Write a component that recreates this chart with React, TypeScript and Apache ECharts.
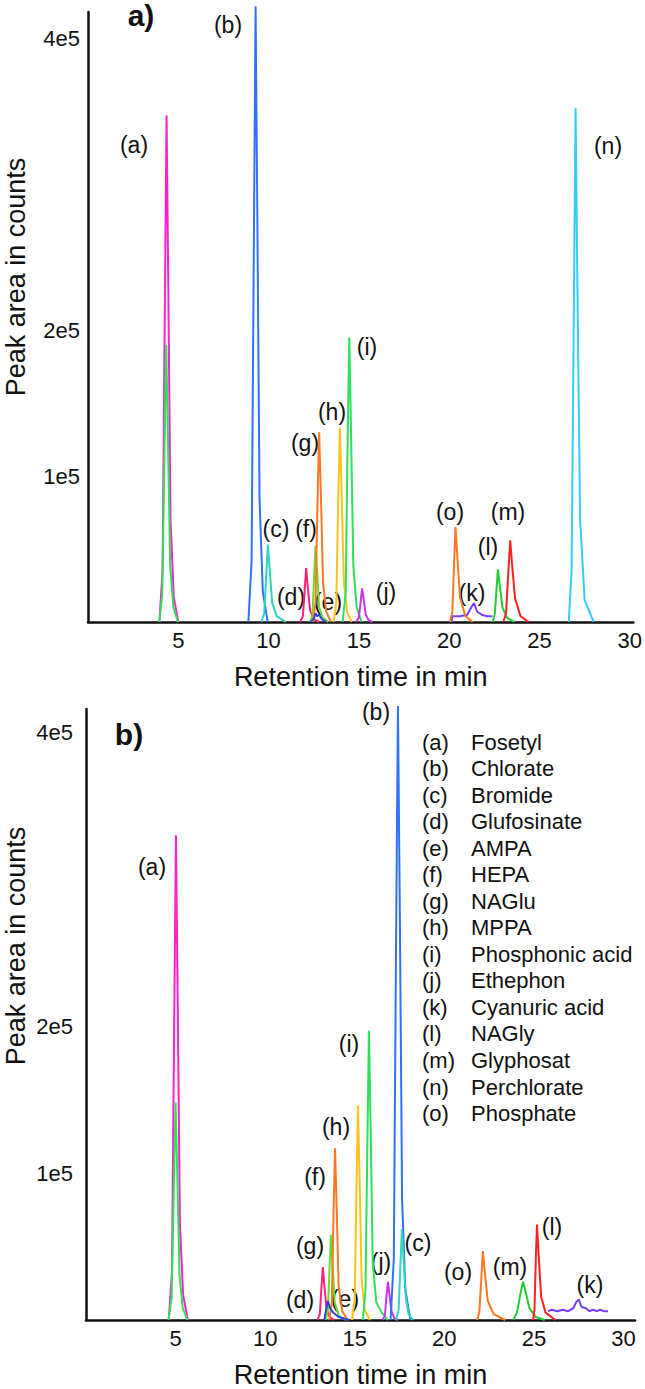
import React, { useEffect, useRef } from "react";
import * as echarts from "echarts";

type Pt = [number, number];

// Values: x = retention time (min), y = peak area in units of 1e5 counts

// ---------- Panel a) ----------
const aFosetyl: Pt[] = [[3.95, 0], [4.13, 0.35], [4.25, 2.1], [4.35, 3.47], [4.45, 2.25], [4.57, 0.7], [4.75, 0.17], [5.0, 0]];
const aFosetyl2: Pt[] = [[3.95, 0], [4.11, 0.19], [4.23, 1.14], [4.33, 1.9], [4.43, 1.24], [4.55, 0.38], [4.73, 0.1], [4.98, 0]];
const aChlorate: Pt[] = [[8.88, 0], [9.06, 0.42], [9.18, 2.53], [9.28, 4.22], [9.38, 2.74], [9.5, 0.84], [9.68, 0.21], [9.95, 0]];
const aBromide: Pt[] = [[9.6, 0], [9.76, 0.06], [9.87, 0.32], [9.96, 0.53], [10.06, 0.36], [10.2, 0.13], [10.45, 0.04], [10.95, 0]];
const aGlufosinate: Pt[] = [[11.75, 0], [11.9, 0.04], [12.0, 0.22], [12.08, 0.37], [12.17, 0.24], [12.3, 0.08], [12.5, 0.02], [12.8, 0]];
const aAMPA: Pt[] = [[12.3, 0], [12.5, 0.02], [12.6, 0.06], [12.68, 0.04], [12.8, 0.05], [12.95, 0.02], [13.2, 0]];
const aHEPA: Pt[] = [[12.3, 0], [12.43, 0.05], [12.52, 0.31], [12.6, 0.52], [12.69, 0.34], [12.8, 0.1], [13.0, 0.03], [13.3, 0]];
const aNAGlu: Pt[] = [[12.45, 0], [12.6, 0.13], [12.7, 0.78], [12.8, 1.3], [12.9, 0.85], [13.02, 0.26], [13.2, 0.07], [13.45, 0]];
const aMPPA: Pt[] = [[13.6, 0], [13.75, 0.13], [13.85, 0.8], [13.95, 1.33], [14.05, 0.86], [14.17, 0.27], [14.35, 0.07], [14.6, 0]];
const aPhosphonic: Pt[] = [[14.1, 0], [14.27, 0.2], [14.37, 1.17], [14.47, 1.95], [14.57, 1.27], [14.69, 0.39], [14.88, 0.1], [15.15, 0]];
const aEthephon: Pt[] = [[14.85, 0], [15.0, 0.03], [15.1, 0.14], [15.18, 0.23], [15.27, 0.15], [15.38, 0.05], [15.55, 0.01], [15.75, 0]];
const aCyanuric: Pt[] = [[20.13, 0], [20.17, 0.04], [20.6, 0.04], [21.0, 0.05], [21.22, 0.1], [21.38, 0.13], [21.55, 0.07], [21.8, 0.05], [22.1, 0.04], [22.39, 0.04]];
const aNAGly: Pt[] = [[22.4, 0], [22.52, 0.05], [22.62, 0.22], [22.7, 0.36], [22.8, 0.25], [22.95, 0.1], [23.2, 0.03], [23.6, 0]];
const aGlyphosat: Pt[] = [[23.0, 0], [23.15, 0.06], [23.28, 0.35], [23.38, 0.56], [23.48, 0.4], [23.65, 0.16], [23.95, 0.04], [24.4, 0]];
const aPerchlorate: Pt[] = [[26.62, 0], [26.78, 0.35], [26.9, 2.1], [27.0, 3.52], [27.1, 2.3], [27.25, 0.7], [27.5, 0.15], [28.0, 0]];
const aPhosphate: Pt[] = [[20.05, 0], [20.18, 0.07], [20.27, 0.4], [20.35, 0.65], [20.45, 0.45], [20.6, 0.17], [20.9, 0.04], [21.3, 0]];

// ---------- Panel b) ----------
const bFosetyl: Pt[] = [[4.62, 0], [4.8, 0.33], [4.92, 2.0], [5.02, 3.3], [5.12, 2.15], [5.24, 0.66], [5.42, 0.17], [5.68, 0]];
const bFosetyl2: Pt[] = [[4.6, 0], [4.78, 0.15], [4.9, 0.9], [5.0, 1.48], [5.1, 0.96], [5.22, 0.3], [5.4, 0.08], [5.66, 0]];
const bChlorate: Pt[] = [[17.0, 0], [17.18, 0.42], [17.3, 2.5], [17.41, 4.18], [17.52, 2.7], [17.64, 0.83], [17.82, 0.21], [18.1, 0]];
const bBromide: Pt[] = [[17.3, 0], [17.45, 0.07], [17.55, 0.38], [17.63, 0.62], [17.72, 0.42], [17.85, 0.15], [18.0, 0.04], [18.25, 0]];
const bGlufosinate: Pt[] = [[12.92, 0], [13.05, 0.04], [13.14, 0.22], [13.22, 0.36], [13.3, 0.24], [13.42, 0.08], [13.6, 0.02], [13.85, 0]];
const bAMPA: Pt[] = [[13.3, 0], [13.4, 0.07], [13.5, 0.13], [13.62, 0.08], [13.8, 0.05], [14.1, 0.02], [14.7, 0]];
const bHEPA: Pt[] = [[13.58, 0], [13.72, 0.12], [13.81, 0.7], [13.9, 1.17], [13.99, 0.76], [14.1, 0.23], [14.3, 0.06], [14.6, 0]];
const bNAGlu: Pt[] = [[13.38, 0], [13.5, 0.06], [13.59, 0.35], [13.67, 0.58], [13.76, 0.38], [13.88, 0.12], [14.1, 0.03], [14.5, 0]];
const bMPPA: Pt[] = [[14.85, 0], [15.0, 0.15], [15.09, 0.88], [15.18, 1.46], [15.27, 0.95], [15.38, 0.29], [15.55, 0.07], [15.85, 0]];
const bPhosphonic: Pt[] = [[15.45, 0], [15.6, 0.2], [15.7, 1.18], [15.79, 1.97], [15.89, 1.28], [16.0, 0.4], [16.2, 0.12], [16.5, 0.05], [16.85, 0]];
const bEthephon: Pt[] = [[16.55, 0], [16.68, 0.03], [16.77, 0.16], [16.85, 0.26], [16.94, 0.17], [17.05, 0.06], [17.22, 0.01], [17.4, 0]];
const bPhosphate: Pt[] = [[21.82, 0], [21.95, 0.05], [22.06, 0.28], [22.15, 0.47], [22.25, 0.34], [22.42, 0.13], [22.75, 0.04], [23.4, 0]];
const bGlyphosat: Pt[] = [[23.85, 0], [24.05, 0.05], [24.25, 0.18], [24.39, 0.26], [24.52, 0.2], [24.75, 0.08], [25.1, 0.02], [25.6, 0]];
const bNAGly: Pt[] = [[24.95, 0], [25.03, 0.07], [25.1, 0.4], [25.17, 0.65], [25.26, 0.45], [25.4, 0.16], [25.65, 0.05], [26.2, 0]];
const bCyanuric: Pt[] = [[25.78, 0.06], [26.0, 0.07], [26.3, 0.06], [26.6, 0.07], [26.9, 0.06], [27.2, 0.08], [27.35, 0.12], [27.5, 0.14], [27.65, 0.09], [27.9, 0.08], [28.1, 0.06], [28.3, 0.07], [28.5, 0.06], [28.7, 0.07], [28.9, 0.06], [29.13, 0.06]];

// ---------- Legend / ticks ----------
const peakLetters = ["(a)", "(b)", "(c)", "(d)", "(e)", "(f)", "(g)", "(h)", "(i)", "(j)", "(k)", "(l)", "(m)", "(n)", "(o)"];
const compoundNames = ["Fosetyl", "Chlorate", "Bromide", "Glufosinate", "AMPA", "HEPA", "NAGlu", "MPPA", "Phosphonic acid", "Ethephon", "Cyanuric acid", "NAGly", "Glyphosat", "Perchlorate", "Phosphate"];
const xTickValues = [5, 10, 15, 20, 25, 30];
const yTickValues = [1, 2, 4];

// ---------- Styles ----------
const C = {
  magenta: "#ff22cc",
  green: "#2fe05a",
  blue: "#2f72ff",
  teal: "#2fd4bc",
  pink: "#ff2277",
  darkBlue: "#3344dd",
  lime: "#66dd33",
  orange: "#ff7722",
  yellow: "#ffc21a",
  violet: "#cc33ee",
  purple: "#7a3cff",
  green2: "#22cc33",
  red: "#ff2222",
  cyan: "#33ccff",
};

const panelA: { data: Pt[]; color: string }[] = [
  { data: aFosetyl, color: C.magenta },
  { data: aFosetyl2, color: C.green },
  { data: aChlorate, color: C.blue },
  { data: aBromide, color: C.teal },
  { data: aGlufosinate, color: C.pink },
  { data: aHEPA, color: C.lime },
  { data: aNAGlu, color: C.orange },
  { data: aAMPA, color: C.darkBlue },
  { data: aMPPA, color: C.yellow },
  { data: aPhosphonic, color: C.green },
  { data: aEthephon, color: C.violet },
  { data: aCyanuric, color: C.purple },
  { data: aNAGly, color: C.green2 },
  { data: aGlyphosat, color: C.red },
  { data: aPerchlorate, color: C.cyan },
  { data: aPhosphate, color: C.orange },
];

const panelB: { data: Pt[]; color: string }[] = [
  { data: bFosetyl, color: C.magenta },
  { data: bFosetyl2, color: C.green },
  { data: bGlufosinate, color: C.pink },
  { data: bNAGlu, color: C.lime },
  { data: bHEPA, color: C.orange },
  { data: bAMPA, color: C.darkBlue },
  { data: bMPPA, color: C.yellow },
  { data: bPhosphonic, color: C.green },
  { data: bEthephon, color: C.violet },
  { data: bChlorate, color: C.blue },
  { data: bBromide, color: C.teal },
  { data: bPhosphate, color: C.orange },
  { data: bGlyphosat, color: C.green2 },
  { data: bNAGly, color: C.red },
  { data: bCyanuric, color: C.purple },
];

// label layout (pixel centres)
const labelsA: [string, number, number][] = [
  ["(a)", 134, 145], ["(b)", 228, 25], ["(c)", 276, 529], ["(f)", 306, 529], ["(d)", 291, 597],
  ["(e)", 328, 602], ["(g)", 305, 443], ["(h)", 332, 412], ["(i)", 367, 347], ["(j)", 386, 592],
  ["(o)", 450, 512], ["(m)", 508, 512], ["(l)", 488, 547], ["(k)", 472, 593], ["(n)", 608, 146],
];
const labelsB: [string, number, number][] = [
  ["(a)", 152, 867], ["(b)", 376, 712], ["(i)", 349, 1044], ["(h)", 336, 1127], ["(f)", 315, 1177],
  ["(g)", 310, 1246], ["(j)", 381, 1262], ["(d)", 300, 1300], ["(e)", 345, 1299], ["(c)", 418, 1243],
  ["(o)", 458, 1272], ["(m)", 510, 1267], ["(l)", 552, 1227], ["(k)", 590, 1285],
];

const FONT = '"Liberation Sans", Arial, Helvetica, sans-serif';
const INK = "#111";

function App() {
  const ref = useRef<HTMLDivElement>(null);

  useEffect(() => {
    document.body.style.margin = "0";
    if (!ref.current) return;
    const chart = echarts.init(ref.current, undefined, { renderer: "svg" });

    const xLabel = (v: number) => (xTickValues.includes(v) ? String(v) : "");
    const yLabel = (v: number) => (yTickValues.includes(v) ? `${v}e5` : "");

    const mkX = (gridIndex: number, max: number) => ({
      type: "value",
      gridIndex,
      min: 0,
      max,
      interval: 5,
      axisLine: { show: true, onZero: false, lineStyle: { color: INK, width: 2.5 } },
      axisTick: { show: false },
      splitLine: { show: false },
      axisLabel: { formatter: xLabel, fontSize: 22, color: INK, fontFamily: FONT, margin: 7 },
      name: "Retention time in min",
      nameLocation: "middle",
      nameGap: 41,
      nameTextStyle: { fontSize: 27, color: INK, fontFamily: FONT },
    });
    const mkY = (gridIndex: number, max: number, margin: number) => ({
      type: "value",
      gridIndex,
      min: 0,
      max,
      interval: 1,
      axisLine: { show: true, onZero: false, lineStyle: { color: INK, width: 2.5 } },
      axisTick: { show: false },
      splitLine: { show: false },
      axisLabel: { formatter: yLabel, fontSize: 22, color: INK, fontFamily: FONT, margin },
    });

    const mkSeries = (list: { data: Pt[]; color: string }[], idx: number) =>
      list.map((s) => ({
        type: "line",
        xAxisIndex: idx,
        yAxisIndex: idx,
        data: s.data,
        showSymbol: false,
        symbol: "none",
        clip: false,
        lineStyle: { color: s.color, width: 2 },
        itemStyle: { color: s.color },
        silent: true,
      }));

    const txt = (text: string, x: number, y: number, size: number, extra: any = {}) => ({
      type: "text",
      x,
      y,
      silent: true,
      style: {
        text,
        fontSize: size,
        fontFamily: FONT,
        fill: INK,
        align: "center",
        verticalAlign: "middle",
        ...extra,
      },
    });

    const graphics: any[] = [];
    graphics.push({ ...txt("Peak area in counts", 16, 277, 27), rotation: Math.PI / 2 });
    graphics.push({ ...txt("Peak area in counts", 16, 946, 27), rotation: Math.PI / 2 });
    graphics.push(txt("a)", 141, 15, 30, { fontWeight: "bold" }));
    graphics.push(txt("b)", 129, 734, 30, { fontWeight: "bold" }));
    labelsA.forEach(([t, x, y]) => graphics.push(txt(t, x, y, 23)));
    labelsB.forEach(([t, x, y]) => graphics.push(txt(t, x, y, 23)));
    peakLetters.forEach((l, i) => {
      const y = 742 + i * 26.54;
      graphics.push(txt(l, 422, y, 22, { align: "left" }));
      graphics.push(txt(compoundNames[i], 471, y, 22, { align: "left" }));
    });

    chart.setOption({
      animation: false,
      backgroundColor: "#fff",
      grid: [
        { left: 88, top: 12, width: 549, height: 610 },
        { left: 86, top: 709, width: 549, height: 613 },
      ],
      xAxis: [mkX(0, 30.2), mkX(1, 30.64)],
      yAxis: [mkY(0, 4.18, 8), mkY(1, 4.16, 13)],
      series: [...mkSeries(panelA, 0), ...mkSeries(panelB, 1)],
      graphic: graphics,
    });

    return () => chart.dispose();
  }, []);

  return <div ref={ref} style={{ width: 645, height: 1389 }} />;
}

export default App;
